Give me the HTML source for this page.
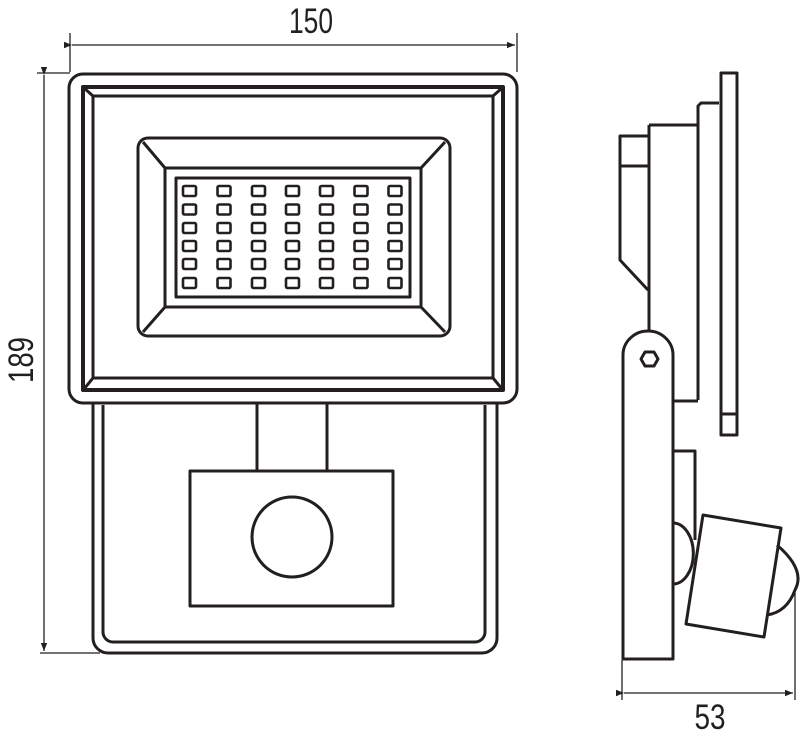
<!DOCTYPE html>
<html><head><meta charset="utf-8"><style>html,body{margin:0;padding:0;background:#fff}svg{display:block}</style></head>
<body>
<svg width="800" height="740" viewBox="0 0 800 740" xmlns="http://www.w3.org/2000/svg">
<defs>
<marker id="ar" viewBox="0 0 10 10" refX="10" refY="5" markerWidth="12" markerHeight="8" orient="auto" markerUnits="userSpaceOnUse"><path d="M0,1 L10,5 L0,9 Z" fill="#231f20"/></marker>
</defs>
<g fill="none" stroke="#231f20" stroke-linejoin="round">
<g stroke-width="1.3">
<line x1="70" y1="33" x2="70" y2="72"/>
<line x1="517" y1="33" x2="517" y2="72"/>
<line x1="72" y1="45" x2="515" y2="45" marker-start="url(#ar)" marker-end="url(#ar)"/>
<line x1="37" y1="73" x2="70" y2="73"/>
<line x1="40" y1="653" x2="100" y2="653"/>
<line x1="44" y1="75" x2="44" y2="651" marker-start="url(#ar)" marker-end="url(#ar)"/>
<line x1="622" y1="660" x2="622" y2="700"/>
<line x1="795" y1="590" x2="795" y2="700"/>
<line x1="624" y1="693" x2="793" y2="693" marker-start="url(#ar)" marker-end="url(#ar)"/>
</g>
<g stroke-width="3">
<rect x="69" y="74" width="448" height="329" rx="14"/>
<rect x="83" y="87" width="420" height="303" stroke-width="4"/>
<rect x="93" y="96" width="400" height="282"/>
<line x1="84" y1="88" x2="93" y2="96"/><line x1="502" y1="88" x2="493" y2="96"/>
<line x1="84" y1="389" x2="93" y2="378"/><line x1="502" y1="389" x2="493" y2="378"/>
<rect x="138" y="138" width="312" height="198" rx="10"/>
<rect x="165" y="168" width="256" height="139"/>
<line x1="143" y1="142" x2="165" y2="168"/><line x1="445" y1="142" x2="421" y2="168"/>
<line x1="143" y1="332" x2="165" y2="307"/><line x1="445" y1="332" x2="421" y2="307"/>
<rect x="176" y="178" width="234" height="119"/>
</g>
<g stroke-width="2.6">
<g id="row">
<rect x="183" y="186" width="13" height="10" rx="1.5"/>
<rect x="217.5" y="186" width="13" height="10" rx="1.5"/>
<rect x="252" y="186" width="13" height="10" rx="1.5"/>
<rect x="286" y="186" width="13" height="10" rx="1.5"/>
<rect x="320" y="186" width="13" height="10" rx="1.5"/>
<rect x="354.5" y="186" width="13" height="10" rx="1.5"/>
<rect x="388.5" y="186" width="13" height="10" rx="1.5"/>
</g>
<use href="#row" y="18.5"/><use href="#row" y="37"/><use href="#row" y="55"/><use href="#row" y="73"/><use href="#row" y="92"/>
</g>
<g stroke-width="3">
<path d="M93,403 V638 A15,15 0 0 0 108,653 H482 A15,15 0 0 0 497,638 V403"/>
<path d="M103,405 V632 A10,10 0 0 0 113,642 H475 A10,10 0 0 0 485,632 V405"/>
<path d="M257,404 V471 M327,404 V471"/>
<rect x="190" y="471" width="203" height="135"/>
<circle cx="292" cy="537" r="40"/>
</g>
<g stroke-width="3">
<rect x="721" y="73" width="16" height="362"/>
<line x1="721" y1="414" x2="737" y2="414"/>
<path d="M698,400 V106 L701,103 H719"/>
<path d="M649,125 H698 M649,125 V331"/>
<path d="M649,136 H620 V260 L648,290 M620,166 H649"/>
<path d="M623,659 V355 A25,24 0 0 1 673,355 V659 Z"/>
<polygon points="641,359 645,352 654,352 658,359 654,366 645,366"/>
<path d="M673,401 H698"/>
<path d="M673,451 H695 V540"/>
<path d="M673,523 A20,30 0 0 1 673,584"/>
<polygon points="703,515 781,528 764,637 686,624"/>
<path d="M777,545 Q806,570 795,590 Q787,612 767,615"/>
</g>
</g>
<g fill="#231f20" font-family="'Liberation Sans Narrow','Liberation Sans',sans-serif" font-size="35">
<text x="311" y="33" text-anchor="middle" textLength="44" lengthAdjust="spacingAndGlyphs">150</text>
<text x="710" y="729" text-anchor="middle" textLength="31" lengthAdjust="spacingAndGlyphs">53</text>
<text transform="translate(33,360) rotate(-90)" text-anchor="middle" textLength="46" lengthAdjust="spacingAndGlyphs">189</text>
</g>
</svg>
</body></html>
